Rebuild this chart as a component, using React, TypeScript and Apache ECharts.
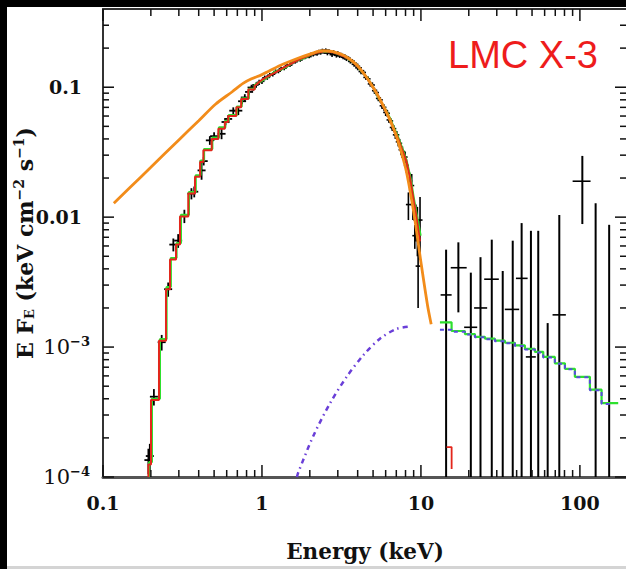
import React, { useEffect, useRef } from 'react';
import * as echarts from 'echarts';

const X_MIN = 0.1;
const X_MAX = 195;
const Y_MIN = 1e-4;
const Y_MAX = 0.4;

const xDecadeLabels: Record<string, string> = { '-1': '0.1', '0': '1', '1': '10', '2': '100' };
const yDecadeLabels: Record<string, string> = {
  '-1': '{d|0.1}',
  '-2': '{d|0.01}',
  '-3': '{b|10}{s|−3}',
  '-4': '{b|10}{s|−4}',
};

const xMajorTicks = [0.1, 1, 10, 100];
const yMajorTicks = [1e-4, 1e-3, 0.01, 0.1];
const xMinorTicks = [0.2, 0.3, 0.4, 0.5, 0.6, 0.7, 0.8, 0.9, 2, 3, 4, 5, 6, 7, 8, 9, 20, 30, 40, 50, 60, 70, 80, 90];
const yMinorTicks = [2e-4, 3e-4, 4e-4, 5e-4, 6e-4, 7e-4, 8e-4, 9e-4, 2e-3, 3e-3, 4e-3, 5e-3, 6e-3, 7e-3, 8e-3, 9e-3,
  0.02, 0.03, 0.04, 0.05, 0.06, 0.07, 0.08, 0.09, 0.2, 0.3];

// Unabsorbed model (orange)
const orangeModel: number[][] = [
  [0.117, 0.0128], [0.15, 0.0172], [0.2, 0.0242], [0.3, 0.0393], [0.4, 0.0552], [0.51, 0.074],
  [0.65, 0.0923], [0.76, 0.107], [0.86, 0.116], [1.0, 0.125], [1.3, 0.147], [1.7, 0.168], [2.0, 0.18], [2.42, 0.191],
  [2.8, 0.188], [3.3, 0.175], [4.0, 0.146], [5.0, 0.1], [6.0, 0.066], [7.0, 0.042], [8.0, 0.024],
  [9.0, 0.011], [10.0, 0.0045], [11.0, 0.0021], [11.6, 0.0015],
];

// Absorbed model, red: low-energy bins then smooth part
const redBinEdges = [0.193, 0.2004, 0.225, 0.249, 0.264, 0.288, 0.305, 0.344, 0.379, 0.408, 0.428, 0.483, 0.532, 0.584, 0.613, 0.69, 0.74, 0.82, 0.9];
const redBinValues = [1.25e-4, 3.92e-4, 1.12e-3, 2.79e-3, 4.72e-3, 6.15e-3, 0.0101, 0.0152, 0.0205, 0.0266, 0.0327, 0.040, 0.048, 0.054, 0.060, 0.070, 0.081, 0.096];
const redSmooth: number[][] = [
  [0.9, 0.102], [1.0, 0.114], [1.1, 0.122], [1.2, 0.129], [1.36, 0.141], [1.5, 0.15], [1.6, 0.157], [1.8, 0.168],
  [2.0, 0.177], [2.2, 0.184], [2.49, 0.189], [2.8, 0.186], [3.0, 0.181], [3.3, 0.172], [3.57, 0.163], [3.9, 0.149],
  [4.2, 0.135], [4.6, 0.117], [5.0, 0.0995], [5.4, 0.084], [5.8, 0.071], [6.38, 0.057], [6.8, 0.047], [7.2, 0.04],
  [7.7, 0.032], [8.13, 0.0266], [8.6, 0.019], [9.0, 0.0135], [9.4, 0.0098], [9.87, 0.0065],
];
const redHigh: number[][] = [[14.5, 1.7e-4], [15.6, 1.7e-4], [15.6, 1.15e-4]];

// Green model
const greenBinEdges = [0.195, 0.203, 0.228, 0.251, 0.267, 0.29, 0.309, 0.347, 0.383, 0.411, 0.432, 0.487, 0.536, 0.588, 0.618, 0.695, 0.745, 0.826, 0.9];
const greenBinValues = [1.3e-4, 4.0e-4, 1.15e-3, 2.9e-3, 4.85e-3, 6.3e-3, 0.0104, 0.0156, 0.021, 0.0272, 0.0334, 0.041, 0.049, 0.055, 0.061, 0.071, 0.082, 0.097];
const greenSmooth: number[][] = [
  [0.9, 0.104], [1.0, 0.112], [1.1, 0.121], [1.2, 0.131], [1.36, 0.139], [1.5, 0.149], [1.6, 0.158], [1.8, 0.166],
  [2.0, 0.176], [2.2, 0.185], [2.49, 0.188], [2.8, 0.187], [3.0, 0.18], [3.3, 0.173], [3.57, 0.162], [3.9, 0.15],
  [4.2, 0.134], [4.6, 0.118], [5.0, 0.1], [5.4, 0.083], [5.8, 0.072], [6.38, 0.058], [6.8, 0.048], [7.2, 0.041],
  [7.7, 0.033], [8.13, 0.027], [8.6, 0.02], [9.0, 0.0142], [9.4, 0.0105], [9.95, 0.0072],
];
const greenHighEdges = [13.17, 15.59, 18.91, 21.86, 25.27, 29.2, 33.76, 39.02, 45.1, 52.1, 58.8, 69.6, 80.5, 93.0, 115.6, 136.9, 174.2];
const greenHighValues = [1.55e-3, 1.33e-3, 1.26e-3, 1.2e-3, 1.16e-3, 1.12e-3, 1.08e-3, 1.03e-3, 0.97e-3, 0.92e-3, 0.84e-3, 0.75e-3, 0.68e-3, 0.59e-3, 0.47e-3, 0.37e-3];

// Power-law component (purple dashed)
const powerlawLow: number[][] = [
  [1.66, 1.0e-4], [1.69, 1.08e-4], [2.1, 2.06e-4], [2.68, 3.69e-4], [3.41, 5.9e-4], [4.34, 8.65e-4],
  [5.52, 1.16e-3], [7.03, 1.38e-3], [8.53, 1.44e-3],
];
const powerlawHighEdges = [13.17, 15.59, 18.91, 21.86, 25.27, 29.2, 33.76, 39.02, 45.1, 52.1, 58.8, 69.6, 80.5, 93.0, 115.6, 136.9, 155];
const powerlawHighValues = [1.36e-3, 1.31e-3, 1.25e-3, 1.19e-3, 1.15e-3, 1.11e-3, 1.07e-3, 1.02e-3, 0.96e-3, 0.91e-3, 0.83e-3, 0.745e-3, 0.675e-3, 0.585e-3, 0.465e-3, 0.365e-3];

// Data: [E, flux, error]
const lowEnergyData: number[][] = [
  [0.193, 1.35e-4, 0.3e-4], [0.197, 1.45e-4, 0.35e-4], [0.209, 4.15e-4, 0.6e-4], [0.234, 1.09e-3, 0.15e-3],
  [0.257, 2.79e-3, 0.35e-3], [0.277, 6.15e-3, 0.7e-3], [0.297, 6.6e-3, 0.8e-3], [0.325, 0.0102, 0.0012],
  [0.36, 0.0152, 0.0015], [0.375, 0.0157, 0.0015], [0.417, 0.0229, 0.0035], [0.43, 0.027, 0.002],
  [0.47, 0.039, 0.003], [0.5, 0.042, 0.003], [0.557, 0.0438, 0.004], [0.59, 0.054, 0.003],
  [0.613, 0.057, 0.004], [0.66, 0.066, 0.004], [0.71, 0.066, 0.005], [0.75, 0.078, 0.004],
  [0.78, 0.0834, 0.005], [0.83, 0.092, 0.005], [0.86, 0.0995, 0.005],
];
const denseData: number[][] = [
  [0.88, 0.1, 0.006], [0.92, 0.104, 0.005], [0.96, 0.109, 0.005], [1.0, 0.111, 0.005], [1.04, 0.118, 0.005],
  [1.08, 0.119, 0.005], [1.12, 0.124, 0.005], [1.17, 0.126, 0.005], [1.22, 0.132, 0.005], [1.27, 0.133, 0.005],
  [1.32, 0.139, 0.005], [1.38, 0.14, 0.005], [1.44, 0.147, 0.005], [1.5, 0.148, 0.005], [1.56, 0.155, 0.005],
  [1.62, 0.157, 0.005], [1.68, 0.163, 0.005], [1.74, 0.162, 0.005], [1.8, 0.168, 0.005], [1.86, 0.169, 0.005],
  [1.92, 0.174, 0.005], [1.98, 0.172, 0.005], [2.04, 0.179, 0.006], [2.1, 0.178, 0.006], [2.16, 0.184, 0.006],
  [2.22, 0.181, 0.006], [2.28, 0.188, 0.006], [2.34, 0.184, 0.006], [2.4, 0.192, 0.006], [2.46, 0.186, 0.006],
  [2.52, 0.193, 0.006], [2.58, 0.183, 0.007], [2.64, 0.19, 0.006], [2.7, 0.185, 0.006], [2.76, 0.178, 0.007],
  [2.82, 0.187, 0.006], [2.88, 0.181, 0.006], [2.94, 0.176, 0.007], [3.0, 0.183, 0.006], [3.08, 0.174, 0.006],
  [3.16, 0.178, 0.006], [3.24, 0.17, 0.006], [3.32, 0.173, 0.006], [3.4, 0.165, 0.006], [3.5, 0.167, 0.006],
  [3.6, 0.158, 0.006], [3.7, 0.159, 0.006], [3.8, 0.15, 0.006], [3.9, 0.15, 0.006], [4.0, 0.141, 0.006],
  [4.1, 0.141, 0.006], [4.2, 0.132, 0.006], [4.35, 0.13, 0.006], [4.5, 0.119, 0.005], [4.65, 0.116, 0.005],
  [4.8, 0.106, 0.005], [4.95, 0.104, 0.005], [5.1, 0.094, 0.005], [5.25, 0.091, 0.005], [5.4, 0.082, 0.004],
  [5.55, 0.08, 0.004], [5.7, 0.072, 0.004], [5.85, 0.07, 0.004], [6.0, 0.064, 0.004], [6.15, 0.063, 0.004],
  [6.3, 0.056, 0.003], [6.45, 0.055, 0.003], [6.6, 0.049, 0.003], [6.75, 0.048, 0.003], [6.9, 0.043, 0.003],
  [7.05, 0.043, 0.003], [7.2, 0.038, 0.003], [7.35, 0.037, 0.003], [7.5, 0.033, 0.003], [7.65, 0.032, 0.003],
  [7.8, 0.029, 0.003], [7.95, 0.029, 0.003], [8.1, 0.025, 0.003], [8.34, 0.0125, 0.003], [8.5, 0.019, 0.003],
  [8.75, 0.0175, 0.004], [8.9, 0.0125, 0.003], [9.15, 0.0072, 0.0015], [9.3, 0.0095, 0.003], [9.5, 0.0085, 0.0035],
  [9.6, 0.0042, 0.0022], [9.87, 0.0095, 0.0048],
];
// High-energy data: [E, flux, Elow, Ehigh, fluxLow, fluxHigh]
const highEnergyData: number[][] = [
  [14.4, 0.00252, 13.3, 15.6, 1e-6, 0.00562],
  [17.2, 0.00408, 15.4, 19.4, 0.00185, 0.0064],
  [20.6, 0.00142, 18.7, 22.6, 1e-6, 0.00374],
  [23.7, 0.002, 21.6, 26.1, 1e-6, 0.00492],
  [27.9, 0.00333, 25.0, 30.9, 1e-6, 0.00671],
  [32.7, 5e-5, 32.7, 32.7, 1e-6, 0.00385],
  [37.8, 0.00195, 33.7, 41.5, 1e-6, 0.00659],
  [43.0, 0.00338, 39.6, 46.9, 1e-6, 0.009],
  [49.2, 0.00084, 45.7, 52.8, 1e-6, 0.00785],
  [54.7, 5e-5, 54.7, 54.7, 1e-6, 0.00785],
  [62.7, 5e-5, 62.7, 62.7, 1e-6, 0.00153],
  [74.2, 0.00177, 67.3, 81.6, 1e-6, 0.0104],
  [103.6, 0.0189, 90.0, 116.7, 0.00885, 0.0296],
  [125.6, 5e-5, 125.6, 125.6, 1e-6, 0.0128],
  [152.8, 5e-5, 152.8, 152.8, 1e-6, 0.00873],
];

function stepVertices(edges: number[], values: number[], start?: number[]): number[][] {
  const out: number[][] = start ? [start] : [];
  for (let i = 0; i < values.length; i++) {
    out.push([edges[i], values[i]]);
    out.push([edges[i + 1], values[i]]);
  }
  return out;
}

function isDecade(v: number): string | null {
  const l = Math.log10(v);
  const e = Math.round(l);
  if (Math.abs(l - e) > 0.01) return null;
  return String(e);
}

const SERIF = 'DejaVu Serif';

export default function App() {
  const ref = useRef<HTMLDivElement>(null);

  useEffect(() => {
    if (!ref.current) return;
    const chart = echarts.init(ref.current, undefined, { renderer: 'svg' });

    // error bars: drawn without clip paths, clamped to the plotting area by hand
    const errorRender = (capPx: number | null, vWidth: number, hWidth: number) => (params: any, api: any) => {
      const cs = params.coordSys;
      const top = cs.y;
      const bottom = cs.y + cs.height;
      const clampY = (y: number) => Math.max(top, Math.min(bottom, y));
      const x = api.value(0);
      const y = api.value(1);
      const c = api.coord([x, y]);
      let lo: number[], hi: number[], xl: number, xr: number;
      if (capPx === null) {
        xl = api.coord([api.value(2), y])[0];
        xr = api.coord([api.value(3), y])[0];
        lo = api.coord([x, api.value(4)]);
        hi = api.coord([x, api.value(5)]);
      } else {
        xl = c[0] - capPx;
        xr = c[0] + capPx;
        lo = api.coord([x, api.value(2)]);
        hi = api.coord([x, api.value(3)]);
      }
      const children: any[] = [
        { type: 'line', shape: { x1: c[0], y1: clampY(lo[1]), x2: c[0], y2: clampY(hi[1]) }, style: { stroke: '#000', lineWidth: vWidth } },
      ];
      if (c[1] >= top && c[1] <= bottom && xr > xl) {
        children.push({ type: 'line', shape: { x1: xl, y1: c[1], x2: xr, y2: c[1] }, style: { stroke: '#000', lineWidth: hWidth } });
      }
      return { type: 'group', children };
    };

    const symErrorSeries = (data: number[][], cap: number, width: number) => ({
      type: 'custom',
      silent: true,
      z: 2,
      encode: { x: 0, y: 1 },
      data: data.map(([x, y, dy]) => [x, y, y - dy, y + dy]),
      renderItem: errorRender(cap, width, width),
    });

    const highErrorSeries = {
      type: 'custom',
      silent: true,
      z: 2,
      encode: { x: 0, y: 1 },
      data: highEnergyData,
      renderItem: errorRender(null, 2, 1.6),
    };

    const lineSeries = (data: number[][], color: string, width: number, extra: any = {}) => ({
      type: 'line',
      data,
      showSymbol: false,
      symbol: 'none',
      silent: true,
      z: 3,
      lineStyle: { color, width, ...(extra.lineStyle || {}) },
      ...Object.fromEntries(Object.entries(extra).filter(([k]) => k !== 'lineStyle')),
    });

    const baseGraphics: any[] = [
      { type: 'rect', silent: true, shape: { x: 0, y: 0, width: 7, height: 569 }, style: { fill: '#000' } },
      { type: 'rect', silent: true, shape: { x: 0, y: 0, width: 626, height: 7 }, style: { fill: '#000' } },
      { type: 'rect', silent: true, shape: { x: 7, y: 566, width: 619, height: 3 }, style: { fill: '#d4d4d4' } },
      {
        type: 'text',
        x: 523, y: 55,
        silent: true,
        style: {
          text: 'LMC X-3', fill: '#ee1c1c', fontFamily: 'Liberation Sans', fontSize: 38,
          align: 'center', verticalAlign: 'middle', textAlign: 'center', textVerticalAlign: 'middle',
        },
      },
      {
        type: 'text',
        x: 365, y: 551,
        silent: true,
        style: {
          text: 'Energy (keV)', fill: '#111', fontFamily: SERIF, fontWeight: 'bold', fontSize: 21.5,
          align: 'center', verticalAlign: 'middle', textAlign: 'center', textVerticalAlign: 'middle',
        },
      },
      {
        type: 'text',
        x: 25, y: 243,
        rotation: Math.PI / 2,
        silent: true,
        style: {
          text: '{n|E F}{sub|E}{n| (keV cm}{sup|−2}{n| s}{sup|−1}{n|)}',
          align: 'center', verticalAlign: 'middle', textAlign: 'center', textVerticalAlign: 'middle',
          fill: '#111',
          rich: {
            n: { fontFamily: SERIF, fontWeight: 'bold', fontSize: 22, fill: '#111', color: '#111' },
            sub: { fontFamily: SERIF, fontWeight: 'bold', fontSize: 13, fill: '#111', color: '#111', padding: [9, 0, 0, 0] },
            sup: { fontFamily: SERIF, fontWeight: 'bold', fontSize: 14, fill: '#111', color: '#111', padding: [0, 0, 13, 0] },
          },
        },
      },
    ];

    const option: any = {
      animation: false,
      backgroundColor: '#fff',
      grid: { left: 103, top: 9, right: 0, bottom: 92, outerBoundsMode: 'none' },
      xAxis: [
        {
          type: 'log', logBase: 10, min: X_MIN, max: X_MAX, position: 'bottom',
          axisLine: { show: true, lineStyle: { color: '#555', width: 3 } },
          axisTick: { show: false },
          splitLine: { show: false },
          axisLabel: {
            margin: 16,
            color: '#111',
            fontFamily: SERIF,
            fontWeight: 'bold',
            fontSize: 19,
            formatter: (v: number) => {
              const k = isDecade(v);
              return k !== null && xDecadeLabels[k] ? xDecadeLabels[k] : '';
            },
          },
        },
        {
          type: 'log', logBase: 10, min: X_MIN, max: X_MAX, position: 'top',
          axisLine: { show: true, lineStyle: { color: '#333', width: 2 } },
          axisTick: { show: false },
          splitLine: { show: false },
          axisLabel: { show: false },
        },
      ],
      yAxis: [
        {
          type: 'log', logBase: 10, min: Y_MIN, max: Y_MAX, position: 'left',
          axisLine: { show: true, lineStyle: { color: '#333', width: 2 } },
          axisTick: { show: false },
          splitLine: { show: false },
          axisLabel: {
            margin: 13,
            color: '#111',
            formatter: (v: number) => {
              const k = isDecade(v);
              return k !== null && yDecadeLabels[k] ? yDecadeLabels[k] : '';
            },
            rich: {
              d: { fontFamily: SERIF, fontWeight: 'bold', fontSize: 19, color: '#111', padding: [0, 8, 0, 0] },
              b: { fontFamily: SERIF, fontWeight: 'normal', fontSize: 21, color: '#111' },
              s: { fontFamily: SERIF, fontWeight: 'bold', fontSize: 13, color: '#111', padding: [0, 0, 12, 0] },
            },
          },
        },
      ],
      series: [
        symErrorSeries(lowEnergyData, 4, 1.8),
        symErrorSeries(denseData, 2.5, 1.6),
        highErrorSeries,
        lineSeries(stepVertices(greenBinEdges, greenBinValues, [0.195, 1e-4]).concat(greenSmooth), '#2ee02e', 2.2),
        lineSeries(stepVertices(greenHighEdges, greenHighValues), '#2ee02e', 2.2),
        lineSeries(stepVertices(redBinEdges, redBinValues, [0.193, 1e-4]).concat(redSmooth), '#e3261b', 2),
        lineSeries(redHigh, '#e3261b', 1.8),
        lineSeries(powerlawLow, '#6a3fd8', 2.5, { smooth: 0.3, lineStyle: { type: [5, 4, 1.5, 4] } }),
        lineSeries(stepVertices(powerlawHighEdges, powerlawHighValues), '#5a4ae0', 2, { lineStyle: { type: [4, 4] } }),
        lineSeries(orangeModel, '#f28c1a', 2.8, { smooth: 0.3 }),
      ],
      graphic: baseGraphics,
    };

    try {
      chart.setOption(option);
    } catch (e) {
      // keep going so that the ticks are still drawn
    }

    // Ticks on all four sides, positioned through the axes' own log scales
    const tickGraphics: any[] = [];
    const pushTick = (x1: number, y1: number, x2: number, y2: number) => {
      tickGraphics.push({
        type: 'line', silent: true, z: 10,
        shape: { x1, y1, x2, y2 },
        style: { stroke: '#111', lineWidth: 1.5 },
      });
    };
    const toPx = (p: number[]) => chart.convertToPixel({ gridIndex: 0 }, p) as number[];
    const addX = (v: number, len: number) => {
      const b = toPx([v, Y_MIN]);
      const t = toPx([v, Y_MAX]);
      if (!b || !t) return;
      pushTick(b[0], b[1], b[0], b[1] - len);
      pushTick(t[0], t[1], t[0], t[1] + len);
    };
    const addY = (v: number, len: number) => {
      const l = toPx([X_MIN, v]);
      const r = toPx([X_MAX, v]);
      if (!l || !r) return;
      pushTick(l[0], l[1], l[0] + len, l[1]);
      pushTick(r[0], r[1], r[0] - len, r[1]);
    };
    try {
      xMajorTicks.forEach((v) => addX(v, 12));
      xMinorTicks.forEach((v) => addX(v, 7));
      yMajorTicks.forEach((v) => addY(v, 11));
      yMinorTicks.forEach((v) => addY(v, 6));
    } catch (e) {
      // ignore
    }
    chart.setOption({ graphic: baseGraphics.concat(tickGraphics) });

    return () => chart.dispose();
  }, []);

  return <div ref={ref} style={{ position: 'fixed', left: 0, top: 0, width: 626, height: 569, background: '#fff' }} />;
}
